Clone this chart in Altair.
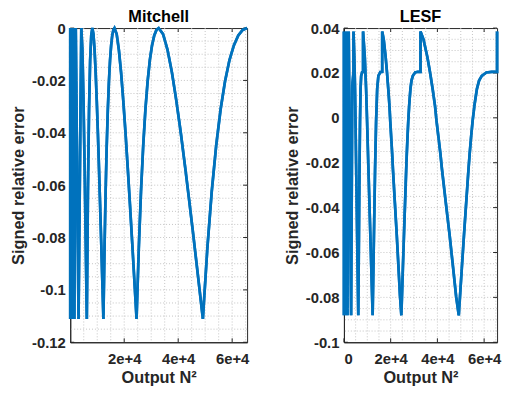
import altair as alt
import pandas as pd

# ---------------- data ----------------
# Mitchell: signed relative error vs output N^2
mitchell_x = [
    1, 1.5, 2, 3, 4, 6, 8, 12, 16, 24, 32, 48, 64, 96, 128, 192,
    256, 384, 512, 768, 1024, 1536, 2048, 3072,
    4096, 4506, 4915, 5325, 5734, 6144, 6554, 6963, 7373, 7782,
    8192, 8602, 9011, 9421, 9830, 10240, 10650, 11059, 11469, 11878,
    12288, 12698, 13107, 13517, 13926, 14336, 14746, 15155, 15565, 15974,
    16384, 17203, 18022, 18842, 19661, 20480, 21299, 22118, 22938, 23757,
    24576, 25395, 26214, 27034, 27853, 28672, 29491, 30310, 31130, 31949,
    32768, 34406, 36045, 37683, 39322, 40960, 42598, 44237, 45875, 47514,
    49152, 50790, 52429, 54067, 55706, 57344, 58982, 60621, 62259, 63898,
    65536,
]
mitchell_y = [
    0, -0.1111, 0, -0.1111, 0, -0.1111, 0, -0.1111, 0, -0.1111, 0, -0.1111,
    0, -0.1111, 0, -0.1111, 0, -0.1111, 0, -0.1111, 0, -0.1111, 0, -0.1111,
    0, -0.0083, -0.0278, -0.0533, -0.0816, -0.1111, -0.0625, -0.0311, -0.0123, -0.0028,
    0, -0.0023, -0.0083, -0.0170, -0.0278, -0.0400, -0.0533, -0.0672, -0.0816, -0.0963,
    -0.1111, -0.0843, -0.0625, -0.0450, -0.0311, -0.0204, -0.0123, -0.0066, -0.0028, -0.0007,
    0, -0.0023, -0.0083, -0.0170, -0.0278, -0.0400, -0.0533, -0.0672, -0.0816, -0.0963,
    -0.1111, -0.0843, -0.0625, -0.0450, -0.0311, -0.0204, -0.0123, -0.0066, -0.0028, -0.0007,
    0, -0.0023, -0.0083, -0.0170, -0.0278, -0.0400, -0.0533, -0.0672, -0.0816, -0.0963,
    -0.1111, -0.0843, -0.0625, -0.0450, -0.0311, -0.0204, -0.0123, -0.0066, -0.0028, -0.0007,
    0,
]

# LESF: signed relative error vs output N^2
lesf_x = [
    1, 1.5, 1.75, 2, 2, 3, 3.5, 4, 4, 6, 7, 8, 8, 12, 14, 16,
    16, 24, 28, 32, 32, 48, 56, 64, 64, 96, 112, 128, 128, 192, 224, 256,
    256, 384, 448, 512, 512, 768, 896, 1024, 1024, 1536, 1792, 2048,
    2048, 3072, 3584, 4096,
    4096, 4464, 4751, 4956, 5243, 5652, 6144, 6423, 6660, 6881, 7115, 7373, 7782, 8192,
    8192, 8929, 9503, 9912, 10486, 11305, 12288, 12845, 13320, 13763, 14230, 14746, 15565, 16384,
    16384, 17039, 17859, 18432, 19005, 19497, 19825, 20234, 20644, 20971, 21791, 22610, 23347, 24002,
    24576, 25231, 25690, 26165, 26640, 26902, 27197, 27525, 27934, 28459, 28918, 29491, 30474, 31621, 32768,
    32768, 34079, 35717, 36864, 38011, 38994, 39649, 40468, 41288, 41943, 43581, 45220, 46694, 48005,
    49152, 50463, 51380, 52331, 53281, 53805, 54395, 55050, 55869, 56918, 57836, 58982, 60948, 63242, 65536,
    65536,
]
lesf_y = [
    0.0385, -0.088, 0.0145, 0.0205, 0.0385, -0.088, 0.0145, 0.0205,
    0.0385, -0.088, 0.0145, 0.0205, 0.0385, -0.088, 0.0145, 0.0205,
    0.0385, -0.088, 0.0145, 0.0205, 0.0385, -0.088, 0.0145, 0.0205,
    0.0385, -0.088, 0.0145, 0.0205, 0.0385, -0.088, 0.0145, 0.0205,
    0.0385, -0.088, 0.0145, 0.0205, 0.0385, -0.088, 0.0145, 0.0205,
    0.0385, -0.088, 0.0145, 0.0205, 0.0385, -0.088, 0.0145, 0.0205,
    0.0385, 0.027, 0.0125, -0.0016, -0.0228, -0.0522, -0.088, -0.0522, -0.0233, -0.0016, 0.0129, 0.0187, 0.0204, 0.0205,
    0.0385, 0.027, 0.0125, -0.0016, -0.0228, -0.0522, -0.088, -0.0522, -0.0233, -0.0016, 0.0129, 0.0187, 0.0204, 0.0205,
    0.0385, 0.0348, 0.027, 0.0202, 0.0125, 0.0052, -0.0016, -0.0088, -0.016, -0.0228, -0.0377, -0.0522, -0.0665, -0.0795,
    -0.088, -0.0667, -0.0522, -0.0377, -0.0233, -0.016, -0.0088, -0.0016, 0.0057, 0.0129, 0.0166, 0.0187, 0.0202, 0.0205, 0.0205,
    0.0385, 0.0348, 0.027, 0.0202, 0.0125, 0.0052, -0.0016, -0.0088, -0.016, -0.0228, -0.0377, -0.0522, -0.0665, -0.0795,
    -0.088, -0.0667, -0.0522, -0.0377, -0.0233, -0.016, -0.0088, -0.0016, 0.0057, 0.0129, 0.0166, 0.0187, 0.0202, 0.0205, 0.0205,
    0.0385,
]

mitchell_xticks = [20000, 40000, 60000]
mitchell_yticks = [0, -0.02, -0.04, -0.06, -0.08, -0.1, -0.12]
lesf_xticks = [0, 20000, 40000, 60000]
lesf_yticks = [0.04, 0.02, 0, -0.02, -0.04, -0.06, -0.08, -0.1]

x_grid = [5000 * k for k in range(1, 14)]
mitchell_ygrid = [round(-0.005 * k, 3) for k in range(1, 24)]
lesf_ygrid = [round(-0.1 + 0.005 * k, 3) for k in range(1, 28)]

FONT = "Liberation Sans"
BLUE = "#0072BD"
AXC = "#262626"
GRIDC = "#c4c4c4"
TICK = 4
H = 318


def panel(title, xs, ys, xdom, ydom, xticks, yticks, ygrid, w, h):
    xs_ = alt.Scale(domain=xdom, nice=False, zero=False)
    ys_ = alt.Scale(domain=ydom, nice=False, zero=False)
    xaxis = alt.Axis(
        values=xticks, grid=False, ticks=False, tickSize=0,
        labelExpr="datum.value == 0 ? '0' : (datum.value / 10000) + 'e+4'",
        labelPadding=9, titlePadding=4, title="Output N²")
    yaxis = alt.Axis(
        values=yticks, grid=False, ticks=False, tickSize=0,
        labelExpr="'' + datum.value", labelPadding=5,
        titlePadding=5, title="Signed relative error")

    def X(f):
        return alt.X(f, scale=xs_, axis=xaxis)

    def Y(f):
        return alt.Y(f, scale=ys_, axis=yaxis)

    df = pd.DataFrame({"x": xs, "y": ys, "i": list(range(len(xs)))})
    line = alt.Chart(df).mark_line(color=BLUE, strokeWidth=2.7, clip=False).encode(
        x=X("x:Q"), y=Y("y:Q"), order=alt.Order("i:Q"))

    gridx = alt.Chart(pd.DataFrame({"g": x_grid})).mark_rule(
        color=GRIDC, strokeDash=[1, 2], strokeWidth=1).encode(x=X("g:Q"))
    gridy = alt.Chart(pd.DataFrame({"g": ygrid})).mark_rule(
        color=GRIDC, strokeDash=[1, 2], strokeWidth=1).encode(y=Y("g:Q"))

    ydf = pd.DataFrame({"t": yticks})
    xdf = pd.DataFrame({"t": xticks})
    tl = alt.Chart(ydf).mark_rule(color=AXC, strokeWidth=1).encode(
        y=Y("t:Q"), x=alt.value(0), x2=alt.value(TICK))
    tr = alt.Chart(ydf).mark_rule(color=AXC, strokeWidth=1).encode(
        y=Y("t:Q"), x=alt.value(w - TICK), x2=alt.value(w))
    tb = alt.Chart(xdf).mark_rule(color=AXC, strokeWidth=1).encode(
        x=X("t:Q"), y=alt.value(h - TICK), y2=alt.value(h))
    tt = alt.Chart(xdf).mark_rule(color=AXC, strokeWidth=1).encode(
        x=X("t:Q"), y=alt.value(0), y2=alt.value(TICK))

    return alt.layer(line, gridx, gridy, tl, tr, tb, tt, line).properties(
        width=w, height=h,
        title=alt.TitleParams(title, font=FONT, fontSize=16.5, fontWeight="bold",
                              color="#000000", offset=-4),
    )


m = panel("Mitchell", mitchell_x, mitchell_y, [1, 65536], [-0.12, 0],
          mitchell_xticks, mitchell_yticks, mitchell_ygrid, 179, H)
l = panel("LESF", lesf_x, lesf_y, [0, 65536], [-0.1, 0.04],
          lesf_xticks, lesf_yticks, lesf_ygrid, 155, H)

chart = alt.hconcat(m, l, spacing=31).properties(
    padding={"left": 2, "top": -2, "right": 0, "bottom": 0}
).configure_view(stroke=AXC, strokeWidth=1).configure_axis(
    labelFont=FONT, labelFontSize=15, labelFontWeight="bold", labelColor=AXC,
    titleFont=FONT, titleFontSize=16.5, titleFontWeight="bold", titleColor=AXC,
    domainColor=AXC, domainWidth=1,
)

chart.save("out.html", embed_options={"renderer": "svg", "actions": False})
